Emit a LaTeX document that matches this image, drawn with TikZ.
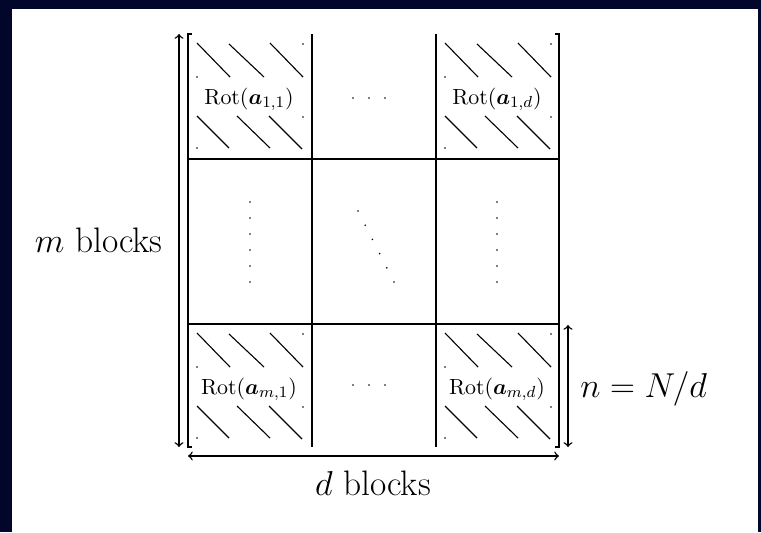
\documentclass[tikz,border=0pt]{standalone}
\definecolor{frameNavy}{HTML}{03062B}
\usepackage{tikz}
\usetikzlibrary{positioning, calc}
\usepackage{amsmath}
\usepackage{xcolor}
% one hatched block: lower-left is shift, #2 node name, #3 label
\newcommand{\rotblock}[3]{%
  \begin{scope}[shift={(#1)}]
    \foreach \xa/\ya/\xb/\yb in {9/9/42/43, 41/10/76/43, 82/9/115/43,
        9/82/41/114, 49/82/82/114, 81/82/114/115}
      \draw[hatchline] (\xa,\ya) -- (\xb,\yb);
    \foreach \xa/\ya in {115/10, 9/43, 115/83, 9/114}
      \fill (\xa,\ya) circle[radius=0.45pt];
    \node[rotlabel, anchor=base] (#2) at (61,70) {#3};
  \end{scope}}

\begin{document}
\begin{tikzpicture}[x=0.5pt, y=-0.5pt,
  cellline/.style={line width=0.8pt},
  hatchline/.style={line width=0.55pt},
  dimarrow/.style={<->, line width=0.7pt},
  rotlabel/.style={font=\fontsize{10.9}{13}\selectfont, inner sep=0pt},
  biglabel/.style={font=\fontsize{17.7}{21}\selectfont, inner sep=0pt}]
  \fill[frameNavy] (0,0) rectangle (761,532);
  \fill[white] (12,9) rectangle (758,532);

  % block grid, open at top and bottom
  \draw[cellline] (192,34) -- (188,34) -- (188,447) -- (192,447);
  \draw[cellline] (555,34) -- (559,34) -- (559,447) -- (555,447);
  \foreach \x in {312,436}
    \draw[cellline] (\x,34) -- (\x,447);
  \foreach \y in {159,324}
    \draw[cellline] (188,\y) -- (559,\y);

  \rotblock{188,34}{rot11}{$\mathrm{Rot}(\boldsymbol{a}_{1,1})$}
  \rotblock{436,34}{rot1d}{$\mathrm{Rot}(\boldsymbol{a}_{1,d})$}
  \rotblock{188,324}{rotm1}{$\mathrm{Rot}(\boldsymbol{a}_{m,1})$}
  \rotblock{436,324}{rotmd}{$\mathrm{Rot}(\boldsymbol{a}_{m,d})$}

  % dots
  \foreach \x in {353,369,385} {
    \fill (\x,98) circle[radius=0.45pt];
    \fill (\x,385) circle[radius=0.45pt];
  }
  \foreach \y in {202,218,...,282} {
    \fill (250,\y) circle[radius=0.45pt];
    \fill (497,\y) circle[radius=0.45pt];
  }
  \foreach \i in {0,...,5}
    \fill ({358+7.2*\i},{211+14.2*\i}) circle[radius=0.45pt];

  % dimensions
  \coordinate (mTop) at (179,34);
  \coordinate (mBot) at (179,447);
  \coordinate (dLeft) at (188,456);
  \coordinate (dRight) at (559,456);
  \coordinate (nTop) at (568,325);
  \coordinate (nBot) at (568,447);
  \draw[dimarrow] (mTop) -- (mBot);
  \draw[dimarrow] (dLeft) -- (dRight);
  \draw[dimarrow] (nTop) -- (nBot);
  \node[biglabel, anchor=base east] (mLabel) at (163,252) {$m$ blocks};
  \node[biglabel, anchor=base] (dLabel) at (373,495) {$d$ blocks};
  \node[biglabel, anchor=base west] (nLabel) at (580,397) {$n = N/d$};
\end{tikzpicture}
\end{document}
